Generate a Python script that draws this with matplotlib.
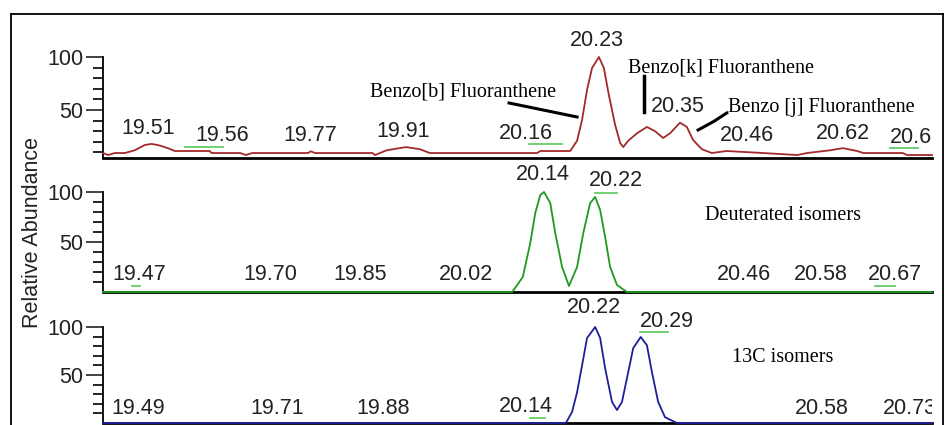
import matplotlib.pyplot as plt
from matplotlib.lines import Line2D
from matplotlib.patches import Rectangle

# --- trace data (time in min, relative abundance) ---
top_t = [19.438, 19.446, 19.457, 19.473, 19.489, 19.505, 19.516, 19.529, 19.542, 19.553,
         19.609, 19.612, 19.658, 19.667, 19.677, 19.767, 19.771, 19.778, 19.870, 19.874,
         19.893, 19.924, 19.946, 19.962, 20.134, 20.139, 20.187, 20.198, 20.206, 20.214,
         20.222, 20.233, 20.241, 20.249, 20.259, 20.267, 20.272, 20.280, 20.294, 20.310,
         20.323, 20.336, 20.347, 20.363, 20.374, 20.384, 20.398, 20.414, 20.438, 20.496,
         20.551, 20.567, 20.604, 20.624, 20.647, 20.657, 20.720, 20.727, 20.767]
top_v = [9.4, 7.5, 9.4, 9.4, 12, 17, 18, 16.5, 14, 11.3,
         11.3, 9.4, 9.4, 7.5, 9.4, 9.4, 11, 9.4, 9.4, 7.5,
         12, 15, 13, 9.4, 9.4, 11.3, 11.3, 21, 40.6, 69,
         89.6, 100, 89.6, 64, 36, 19, 15, 21, 28, 34,
         30, 23.6, 28, 38, 34, 21.7, 13, 9.4, 11.3, 9.4,
         7.5, 9.4, 12, 14, 11.3, 9.4, 9.4, 7.5, 7.5]

mid_t = [19.438, 20.094, 20.102, 20.111, 20.123, 20.131, 20.139, 20.145, 20.155, 20.163,
         20.174, 20.185, 20.198, 20.208, 20.219, 20.227, 20.235, 20.243, 20.251, 20.262,
         20.278, 20.767]
mid_v = [0, 0, 7, 15, 49, 79, 97, 100, 89, 59,
         25, 6, 25, 59, 89, 95, 82, 55, 25, 7,
         0, 0]

bot_t = [19.438, 20.180, 20.190, 20.198, 20.206, 20.214, 20.227, 20.235, 20.243, 20.254,
         20.262, 20.270, 20.280, 20.288, 20.300, 20.310, 20.318, 20.328, 20.339, 20.358,
         20.767]
bot_v = [0, 0, 11.5, 32, 60, 88.5, 100, 88.5, 57, 22,
         13.5, 22, 53, 78, 89.6, 81, 53, 22, 6, 0,
         0]

# peak labels: text, x position, y position
top_labels = ["19.51", "19.56", "19.77", "19.91", "20.16", "20.23", "20.35", "20.46", "20.62", "20.6"]
top_lx = [19.51, 19.629, 19.77, 19.919, 20.116, 20.23, 20.36, 20.47, 20.624, 20.733]
top_ly = [33, 25.5, 25.5, 30, 28, 116, 53, 26, 28, 23.6]

mid_labels = ["19.47", "19.70", "19.85", "20.02", "20.14", "20.22", "20.46", "20.58", "20.67"]
mid_lx = [19.496, 19.706, 19.85, 20.02, 20.143, 20.26, 20.466, 20.589, 20.708]
mid_ly = [17, 17, 17, 17, 117, 111, 17, 17, 17]

bot_labels = ["19.49", "19.71", "19.88", "20.14", "20.22", "20.29", "20.58", "20.73"]
bot_lx = [19.494, 19.717, 19.887, 20.116, 20.225, 20.342, 20.591, 20.732]
bot_ly = [15.6, 15.6, 15.6, 16.7, 119.8, 106, 15.6, 15.6]

# green label leader marks (t0, t1, y)
top_marks = [(19.569, 19.630, 15), (20.121, 20.174, 17.9), (20.70, 20.745, 14)]
mid_marks = [(19.484, 19.497, 6), (20.227, 20.262, 99), (20.676, 20.708, 6)]
bot_marks = [(20.123, 20.147, 5), (20.299, 20.344, 95)]

W, H = 952, 425
fig = plt.figure(figsize=(W / 100, H / 100), dpi=100)
sans = "Liberation Sans"
serif = "Liberation Serif"


def px_axes(top, bottom):
    return [103 / W, (H - bottom) / H, (932 - 103) / W, (bottom - top) / H]


panels = [
    (px_axes(57, 158), 4.7, top_t, top_v, "#a3292b", top_labels, top_lx, top_ly, top_marks),
    (px_axes(192, 292), 0, mid_t, mid_v, "#1f9a1f", mid_labels, mid_lx, mid_ly, mid_marks),
    (px_axes(327, 423), 0, bot_t, bot_v, "#1e1e9a", bot_labels, bot_lx, bot_ly, bot_marks),
]

# labels running past the end of the time axis get cut off
clip = Rectangle((0, 0), 932 / W, 1, transform=fig.transFigure)
axes = []
for pos, ymin, t, v, col, labs, lx, ly, marks in panels:
    ax = fig.add_axes(pos)
    ax.plot(t, v, color=col, lw=1.3, zorder=3, clip_on=False)
    ax.set_xlim(19.438, 20.767)
    ax.set_ylim(ymin, 100)
    ax.patch.set_visible(False)
    for s in ["top", "right"]:
        ax.spines[s].set_visible(False)
    ax.spines["left"].set_linewidth(1.3)
    ax.spines["bottom"].set_linewidth(2)
    ax.set_xticks([])
    ax.set_yticks([50, 100])
    ax.set_yticks([10, 20, 30, 40, 60, 70, 80, 90], minor=True)
    ax.tick_params(axis="y", which="major", length=12, width=1.2, pad=2,
                   labelsize=15.5, labelfontfamily=sans, colors="#222222")
    ax.tick_params(axis="y", which="minor", length=7, width=1.2)
    for t0, t1, y in marks:
        ax.plot([t0, t1], [y, y], color="#66cc66", lw=1.3, zorder=4, clip_on=False)
    for s, x, y in zip(labs, lx, ly):
        txt = ax.text(x, y, s, ha="center", va="center", fontsize=15.5,
                      family=sans, color="#222222", clip_on=True)
        txt.set_clip_path(clip)
    axes.append(ax)

ax_top, ax_mid, ax_bot = axes

# compound annotations
ax_top.text(19.866, 62.3, "Benzo[b] Fluoranthene", family=serif, fontsize=14.5, va="baseline")
ax_top.plot([20.089, 20.198], [56.6, 43.4], color="black", lw=2.2, clip_on=False)
ax_top.text(20.28, 85.8, "Benzo[k] Fluoranthene", family=serif, fontsize=14.5, va="baseline")
ax_top.plot([20.305, 20.305], [82, 48], color="black", lw=2.5, clip_on=False)
ax_top.text(20.44, 48.5, "Benzo [j] Fluoranthene", family=serif, fontsize=14.5, va="baseline")
ax_top.plot([20.438, 20.418, 20.392], [47.2, 39.5, 31.1], color="black", lw=2.2, clip_on=False)
ax_mid.text(20.403, 72, "Deuterated isomers", family=serif, fontsize=14.5, va="baseline")
ax_bot.text(20.446, 63.5, "13C isomers", family=serif, fontsize=14.5, va="baseline")

fig.text(33 / W, 1 - 232 / H, "Relative Abundance", rotation=90, ha="center", va="center",
         fontsize=15.5, family=sans, color="#222222")

# outer frame of the screenshot
for xs, ys in [([11, 11], [0, 14]), ([11, 943], [14, 14]), ([943, 943], [14, 0])]:
    fig.add_artist(Line2D([x / W for x in xs], [1 - y / H if y else 0 for y in ys],
                          color="black", lw=1.3, transform=fig.transFigure))

fig.savefig("out.png", dpi=100)
